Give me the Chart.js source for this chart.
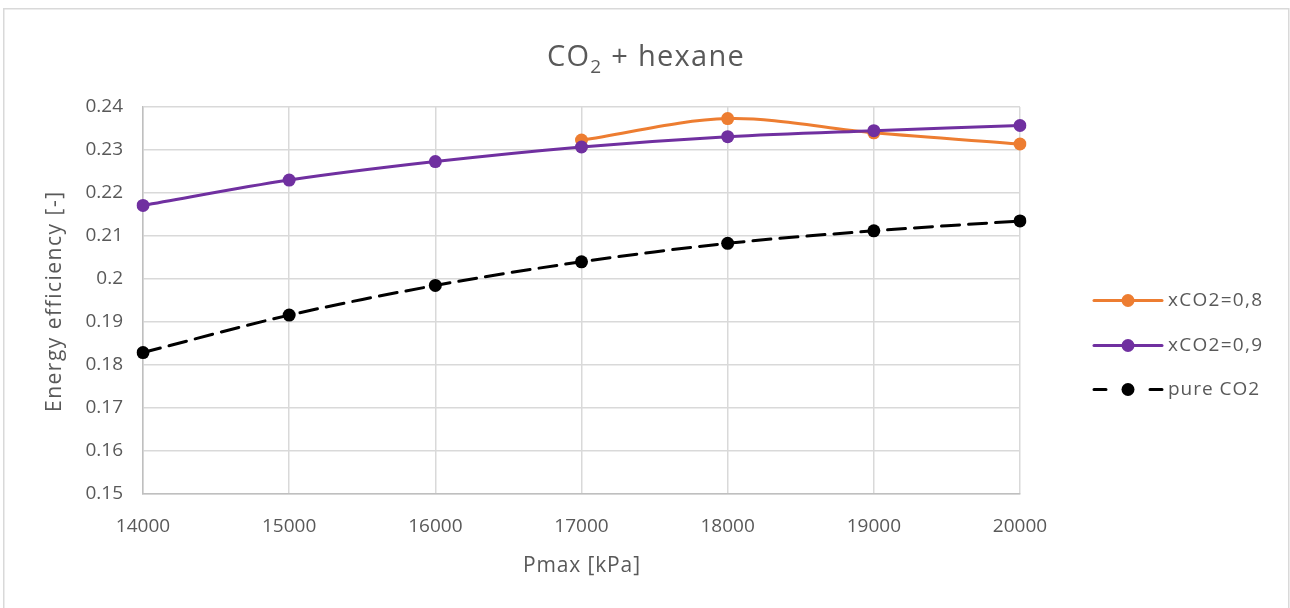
<!DOCTYPE html>
<html>
<head>
<meta charset="utf-8">
<script src="https://cdn.jsdelivr.net/npm/chart.js@4.4.1/dist/chart.umd.min.js"></script>
<style>
  html, body { margin: 0; padding: 0; background: #fff; }
  #wrap { width: 1290px; height: 608px; position: relative; }
</style>
</head>
<body>
<div id="wrap"><canvas id="c" width="1290" height="608"></canvas></div>
<script>
const categories = ["14000", "15000", "16000", "17000", "18000", "19000", "20000"];
const xco2_08 = [null, null, null, 0.2323, 0.2373, 0.2340, 0.2314];
const xco2_09 = [0.2171, 0.2230, 0.2273, 0.2307, 0.2331, 0.2345, 0.2357];
const pureCO2 = [0.1829, 0.1916, 0.1985, 0.2040, 0.2083, 0.2112, 0.2135];
const seriesLabels = ["xCO2=0,8", "xCO2=0,9", "pure CO2"];
const yTicks = [0.15, 0.16, 0.17, 0.18, 0.19, 0.2, 0.21, 0.22, 0.23, 0.24];
const chartTitle = { main: "CO", sub: "2", rest: " + hexane" };
const xTitle = "Pmax [kPa]";
const yTitle = "Energy efficiency [-]";

const FONT = "'Open Sans', Lato, sans-serif";
const TXT = "#595959";
const colors = ["#ED7D31", "#7030A0", "#000000"];

function spacingFor(ctx, text, target) {
  const w = ctx.measureText(text).width;
  const s = (target - w) / Math.max(1, text.length - 1);
  return Math.max(-1, Math.min(3, s));
}
function drawFit(ctx, text, x, y, target, align) {
  const ls = spacingFor(ctx, text, target);
  ctx.letterSpacing = ls + "px";
  const w = ctx.measureText(text).width;
  ctx.textAlign = "left";
  let sx = x;
  if (align === "center") sx = x - (w - ls) / 2;
  ctx.fillText(text, sx, y);
  ctx.letterSpacing = "0px";
}

const decor = {
  id: "decor",
  beforeDraw(chart) {
    const ctx = chart.ctx;
    ctx.save();
    ctx.fillStyle = "#fff";
    ctx.fillRect(0, 0, chart.width, chart.height);
    ctx.strokeStyle = "#d9d9d9";
    ctx.lineWidth = 1.5;
    ctx.strokeRect(3.75, 8.75, 1285, 640);
    ctx.restore();
  },
  afterDraw(chart) {
    const ctx = chart.ctx;
    const a = chart.chartArea;
    ctx.save();
    ctx.fillStyle = TXT;
    // title
    const big = "29px " + FONT, small = "19px " + FONT;
    ctx.textBaseline = "alphabetic";
    ctx.font = big;
    const w1 = ctx.measureText(chartTitle.main).width;
    const w3 = ctx.measureText(chartTitle.rest).width;
    ctx.font = small;
    const w2 = ctx.measureText(chartTitle.sub).width;
    const extra = Math.max(-12, Math.min(30, 198 - (w1 + w2 + w3)));
    const ls = extra / 12;
    let x = 646 - (w1 + w2 + w3 + extra) / 2;
    const by = 66;
    ctx.font = big;
    ctx.textAlign = "left";
    ctx.letterSpacing = ls + "px";
    ctx.fillText(chartTitle.main, x, by);
    x += ctx.measureText(chartTitle.main).width;
    ctx.font = small;
    ctx.fillText(chartTitle.sub, x, by + 7);
    x += ctx.measureText(chartTitle.sub).width;
    ctx.font = big;
    ctx.fillText(chartTitle.rest, x, by);
    ctx.letterSpacing = "0px";
    // x axis title
    ctx.font = "21px " + FONT;
    ctx.textBaseline = "middle";
    drawFit(ctx, xTitle, (a.left + a.right) / 2, 566, 117, "center");
    // y axis title
    ctx.save();
    ctx.translate(55, 302);
    ctx.rotate(-Math.PI / 2);
    ctx.font = "21px " + FONT;
    drawFit(ctx, yTitle, 0, 0, 220, "center");
    ctx.restore();
    // legend
    const ys = [300.5, 345.5, 389.5];
    const tw = [94, 94, 91];
    chart.data.datasets.forEach((ds, i) => {
      const y = ys[i];
      ctx.strokeStyle = ds.borderColor;
      ctx.lineWidth = 3;
      ctx.lineCap = "round";
      ctx.beginPath();
      if (ds.borderDash && ds.borderDash.length) {
        ctx.moveTo(1094, y); ctx.lineTo(1106, y);
        ctx.moveTo(1150, y); ctx.lineTo(1162, y);
      } else {
        ctx.moveTo(1094, y); ctx.lineTo(1162, y);
      }
      ctx.stroke();
      ctx.fillStyle = ds.pointBackgroundColor;
      ctx.beginPath();
      ctx.arc(1128, y, 6.5, 0, Math.PI * 2);
      ctx.fill();
      ctx.fillStyle = TXT;
      ctx.font = "19px " + FONT;
      ctx.textBaseline = "middle";
      drawFit(ctx, ds.label, 1168, y, tw[i], "left");
    });
    ctx.restore();
  }
};

const mk = (i, data, dash, order) => ({
  label: seriesLabels[i],
  data: data,
  borderColor: colors[i],
  backgroundColor: colors[i],
  pointBackgroundColor: colors[i],
  pointBorderColor: colors[i],
  pointRadius: 6.5,
  pointBorderWidth: 0,
  borderWidth: 3,
  borderDash: dash,
  borderCapStyle: "round",
  tension: 0.33,
  spanGaps: false,
  order: order,
  fill: false
});

new Chart(document.getElementById("c"), {
  type: "line",
  data: {
    labels: categories,
    datasets: [
      mk(0, xco2_08, [], 1),
      mk(1, xco2_09, [], 0),
      mk(2, pureCO2, [18, 9], 2)
    ]
  },
  options: {
    responsive: false,
    animation: false,
    devicePixelRatio: 1,
    layout: { padding: { left: 0, top: 107, right: 270, bottom: 0 } },
    plugins: { legend: { display: false }, title: { display: false }, tooltip: { enabled: false } },
    scales: {
      x: {
        type: "category",
        offset: false,
        grid: { color: "#d9d9d9", lineWidth: 1.5, drawTicks: false },
        border: { color: "#bfbfbf", width: 1.5 },
        ticks: { color: TXT, font: { family: FONT, size: 19 }, padding: 21, maxRotation: 0, autoSkip: false },
        afterFit(s) { s.height = 114; }
      },
      y: {
        min: yTicks[0],
        max: yTicks[yTicks.length - 1],
        afterBuildTicks(s) { s.ticks = yTicks.map(v => ({ value: v })); },
        grid: { color: "#d9d9d9", lineWidth: 1.5, drawTicks: false },
        border: { color: "#bfbfbf", width: 1.5 },
        ticks: {
          color: TXT, font: { family: FONT, size: 19 }, padding: 20,
          callback: (v) => String(+Number(v).toFixed(2))
        },
        afterFit(s) { s.width = 143; }
      }
    }
  },
  plugins: [decor]
});
</script>
</body>
</html>
